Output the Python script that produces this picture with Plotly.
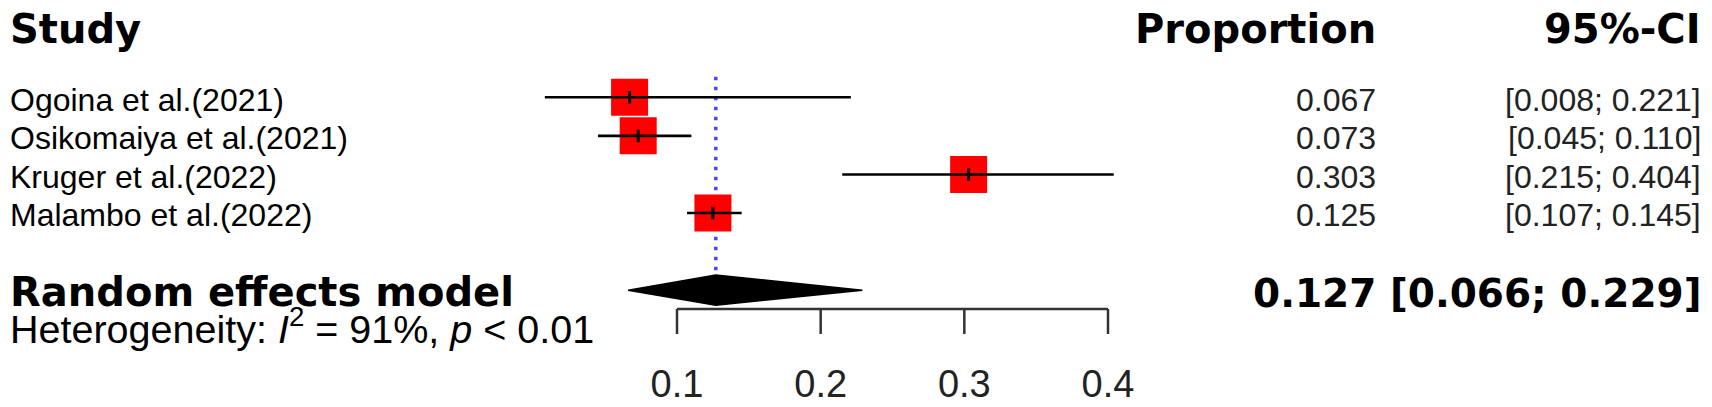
import plotly.graph_objects as go

# ---------------- data ----------------
studies = ["Ogoina et al.(2021)", "Osikomaiya et al.(2021)", "Kruger et al.(2022)", "Malambo et al.(2022)"]
proportion = [0.067, 0.073, 0.303, 0.125]
ci_lower = [0.008, 0.045, 0.215, 0.107]
ci_upper = [0.221, 0.110, 0.404, 0.145]

pooled_label = "Random effects model"
pooled_est = 0.127
pooled_lower = 0.066
pooled_upper = 0.229
heterogeneity_i2 = 91
heterogeneity_p = "< 0.01"

tick_values = [0.1, 0.2, 0.3, 0.4]
tick_labels = ["0.1", "0.2", "0.3", "0.4"]

col_headers = ["Study", "Proportion", "95%-CI"]

# ---------------- layout constants ----------------
W, H = 1712, 407
PX_T0, PX_T1 = 677.0, 1108.0          # pixel positions of first/last tick
ppu = (PX_T1 - PX_T0) / (tick_values[-1] - tick_values[0])
x_left = tick_values[0] - PX_T0 / ppu
x_right = x_left + W / ppu

ROW0_PX, ROW_STEP = 97.3, 38.57
y_top = -ROW0_PX / ROW_STEP
y_bot = (H - ROW0_PX) / ROW_STEP
summary_row = len(studies) + 1


def row_of(px):
    return (px - ROW0_PX) / ROW_STEP


axis_row = row_of(309.0)
tick_end_row = row_of(334.0)
tick_label_row = row_of(387.0)

REG = "Liberation Sans, Arial, sans-serif"
BOLD = "DejaVu Sans, sans-serif"

fig = go.Figure()
rows = list(range(len(studies)))

# reference (dotted) line at pooled estimate
fig.add_trace(go.Scatter(x=[pooled_est, pooled_est], y=[-0.53, summary_row - 0.2], mode="lines",
                         line=dict(color="#4646ff", width=3.5, dash="3.5px,6.5px"),
                         hoverinfo="skip", showlegend=False))

# study squares
fig.add_trace(go.Scatter(x=proportion, y=rows, mode="markers",
                         marker=dict(symbol="square", size=37, color="#ff0000", line=dict(width=0)),
                         hoverinfo="skip", showlegend=False))

# CI lines
cx, cy = [], []
for i, (lo, hi) in enumerate(zip(ci_lower, ci_upper)):
    cx += [lo, hi, None]
    cy += [i, i, None]
fig.add_trace(go.Scatter(x=cx, y=cy, mode="lines", line=dict(color="black", width=2.6),
                         hoverinfo="skip", showlegend=False))

# point-estimate marks
fig.add_trace(go.Scatter(x=proportion, y=rows, mode="markers",
                         marker=dict(symbol="line-ns", size=9, line=dict(color="black", width=3)),
                         hoverinfo="skip", showlegend=False))

# pooled diamond
dh = 0.39
fig.add_trace(go.Scatter(x=[pooled_lower, pooled_est, pooled_upper, pooled_est, pooled_lower],
                         y=[summary_row, summary_row - dh, summary_row, summary_row + dh, summary_row],
                         mode="lines", fill="toself", fillcolor="black",
                         line=dict(color="black", width=1.5), hoverinfo="skip", showlegend=False))

# x axis: baseline + ticks + labels, drawn on the data scale
ax_x = [tick_values[0], tick_values[-1], None]
ax_y = [axis_row, axis_row, None]
for t in tick_values:
    ax_x += [t, t, None]
    ax_y += [axis_row, tick_end_row, None]
fig.add_trace(go.Scatter(x=ax_x, y=ax_y, mode="lines", line=dict(color="#333", width=2.5),
                         hoverinfo="skip", showlegend=False))
fig.add_trace(go.Scatter(x=tick_values, y=[tick_label_row] * len(tick_values), mode="text",
                         text=tick_labels, textposition="middle center",
                         textfont=dict(family=REG, size=38, color="#222"),
                         hoverinfo="skip", showlegend=False, cliponaxis=False))

ann = []


def px_to_paper(px):
    return px / W


# headers
hdr_y = -1.77
ann.append(dict(x=px_to_paper(8), y=hdr_y, text=f"<b>{col_headers[0]}</b>", xanchor="left",
                font=dict(family=BOLD, size=40, color="black")))
ann.append(dict(x=px_to_paper(1378), y=hdr_y, text=f"<b>{col_headers[1]}</b>", xanchor="right",
                font=dict(family=BOLD, size=40, color="black")))
ann.append(dict(x=px_to_paper(1703), y=hdr_y, text=f"<b>{col_headers[2]}</b>", xanchor="right",
                font=dict(family=BOLD, size=40, color="black")))

for i, s in enumerate(studies):
    yy = i + 0.06
    ann.append(dict(x=px_to_paper(8), y=yy, text=s, xanchor="left",
                    font=dict(family=REG, size=32, color="black")))
    ann.append(dict(x=px_to_paper(1378), y=yy, text=f"{proportion[i]:.3f}", xanchor="right",
                    font=dict(family=REG, size=32, color="#222")))
    ann.append(dict(x=px_to_paper(1703), y=yy, text=f"[{ci_lower[i]:.3f}; {ci_upper[i]:.3f}]", xanchor="right",
                    font=dict(family=REG, size=32, color="#222")))

ann.append(dict(x=px_to_paper(8), y=summary_row + 0.06, text=f"<b>{pooled_label}</b>", xanchor="left",
                font=dict(family=BOLD, size=40, color="black")))
ann.append(dict(x=px_to_paper(1703), y=summary_row + 0.08,
                text=f"<b>{pooled_est:.3f} [{pooled_lower:.3f}; {pooled_upper:.3f}]</b>", xanchor="right",
                font=dict(family=BOLD, size=39, color="black")))
ann.append(dict(x=px_to_paper(8), y=summary_row + 0.92,
                text=f"Heterogeneity: <i>I</i><sup>2</sup> = {heterogeneity_i2}%, <i>p</i> {heterogeneity_p}",
                xanchor="left", font=dict(family=REG, size=39.5, color="black")))

for a in ann:
    a.update(xref="paper", yref="y", yanchor="middle", showarrow=False)

fig.update_layout(
    width=W, height=H, autosize=False,
    margin=dict(l=0, r=0, t=0, b=0, pad=0),
    paper_bgcolor="white", plot_bgcolor="rgba(0,0,0,0)",
    annotations=ann,
    xaxis=dict(range=[x_left, x_right], domain=[0, 1], visible=False, fixedrange=True),
    yaxis=dict(range=[y_bot, y_top], visible=False, fixedrange=True),
    showlegend=False,
)

fig.write_html("out.html", config={"displayModeBar": False},
               post_script="document.body.style.margin='0';")
